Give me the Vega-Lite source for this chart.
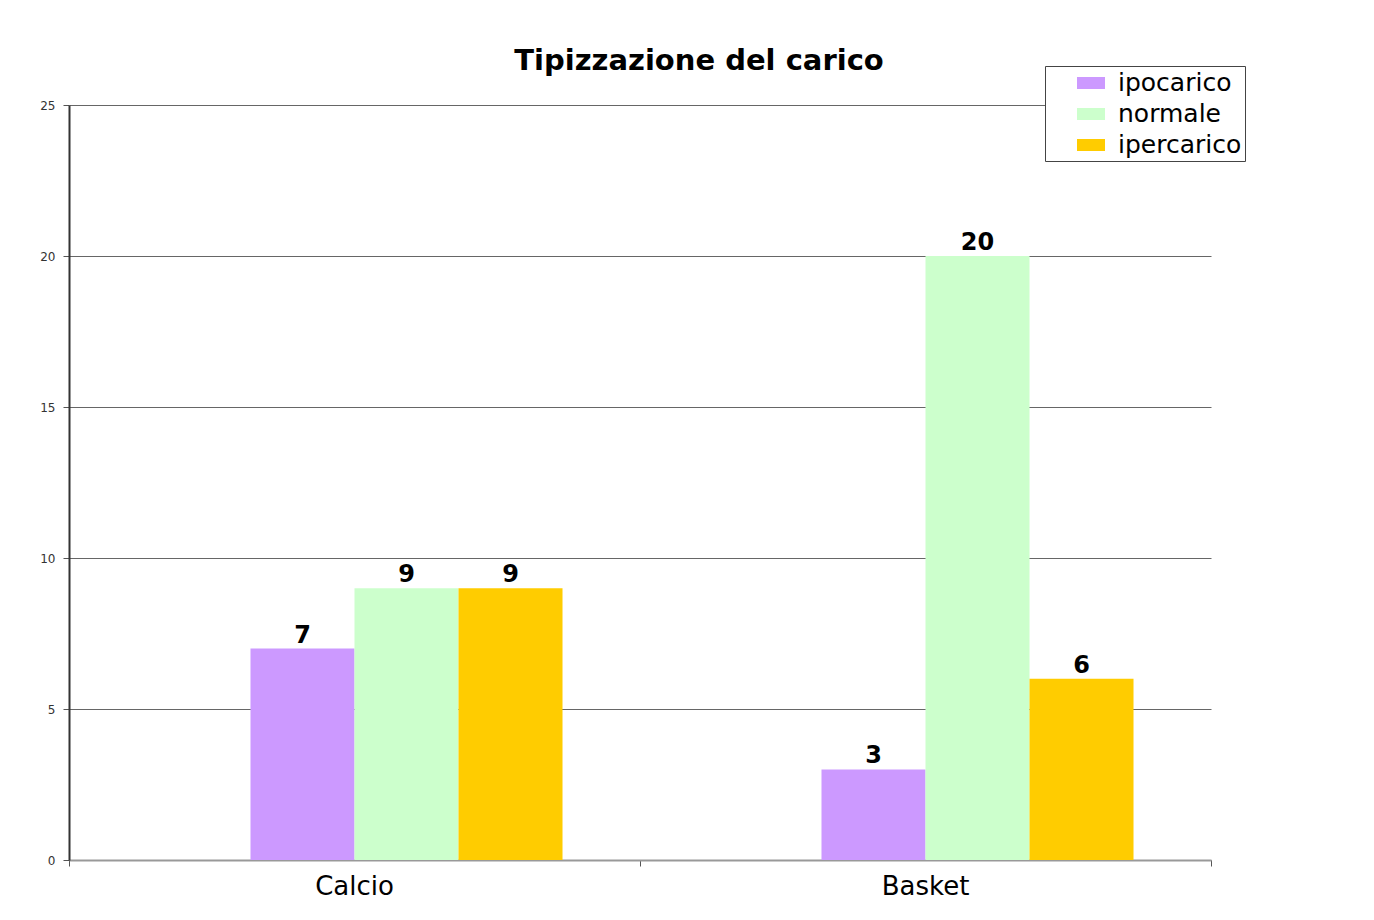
{
  "$schema": "https://vega.github.io/schema/vega-lite/v6.json",
  "width": 1142,
  "height": 755,
  "autosize": "none",
  "padding": {"left": 69, "top": 105, "right": 163, "bottom": 60},
  "background": "white",
  "config": {"view": {"stroke": null}, "font": "DejaVu Sans"},
  "title": {
    "text": "Tipizzazione del carico",
    "font": "DejaVu Sans",
    "fontWeight": "bold",
    "fontSize": 29,
    "color": "#000000",
    "anchor": "middle",
    "dx": 59,
    "offset": -10
  },
  "data": {
    "values": [
      {"sport": "Calcio", "carico": "ipocarico", "valore": 7},
      {"sport": "Calcio", "carico": "normale", "valore": 9},
      {"sport": "Calcio", "carico": "ipercarico", "valore": 9},
      {"sport": "Basket", "carico": "ipocarico", "valore": 3},
      {"sport": "Basket", "carico": "normale", "valore": 20},
      {"sport": "Basket", "carico": "ipercarico", "valore": 6}
    ]
  },
  "encoding": {
    "x": {
      "field": "sport",
      "type": "nominal",
      "sort": ["Calcio", "Basket"],
      "scale": {"paddingInner": 0, "paddingOuter": 0},
      "axis": {
        "title": null,
        "labelAngle": 0,
        "labelFont": "DejaVu Sans",
        "labelFontSize": 26,
        "labelColor": "#000000",
        "domainColor": "#999999",
        "domainWidth": 2,
        "tickColor": "#555555",
        "tickSize": 6,
        "bandPosition": 1,
        "tickExtra": true,
        "labelOffset": 0,
        "labelPadding": 7,
        "grid": false
      }
    },
    "xOffset": {
      "field": "carico",
      "type": "nominal",
      "scale": {
        "domain": ["vuota", "ipocarico", "normale", "ipercarico"],
        "paddingInner": 0,
        "paddingOuter": 0.745
      }
    },
    "y": {
      "field": "valore",
      "type": "quantitative",
      "scale": {"domain": [0, 25]},
      "axis": {
        "title": null,
        "values": [0, 5, 10, 15, 20, 25],
        "tickColor": "#555555",
        "tickSize": 6,
        "domainColor": "#333333",
        "domainWidth": 2,
        "gridColor": "#666666",
        "gridWidth": 1,
        "labelFont": "DejaVu Sans",
        "labelFontSize": 12,
        "labelColor": "#333333",
        "labelPadding": 8
      }
    }
  },
  "layer": [
    {
      "mark": {"type": "bar"},
      "encoding": {
        "color": {
          "field": "carico",
          "type": "nominal",
          "scale": {
            "domain": ["ipocarico", "normale", "ipercarico"],
            "range": ["#CC99FF", "#CCFFCC", "#FFCC00"]
          },
          "legend": {
            "title": null,
            "orient": "none",
            "legendX": 976,
            "legendY": -39,
            "strokeColor": "#444444",
            "fillColor": "white",
            "padding": 3,
            "symbolType": "M-1,-0.43H1V0.43H-1Z",
            "symbolSize": 784,
            "symbolStrokeWidth": 0,
            "symbolOpacity": 1,
            "symbolOffset": 29,
            "labelFont": "DejaVu Sans",
            "labelFontSize": 25,
            "labelColor": "#000000",
            "labelOffset": 13,
            "rowPadding": 4
          }
        }
      }
    },
    {
      "mark": {
        "type": "text",
        "baseline": "alphabetic",
        "dy": -6,
        "font": "DejaVu Sans",
        "fontSize": 24,
        "fontWeight": "bold",
        "color": "#000000"
      },
      "encoding": {"text": {"field": "valore", "type": "quantitative"}}
    }
  ]
}
